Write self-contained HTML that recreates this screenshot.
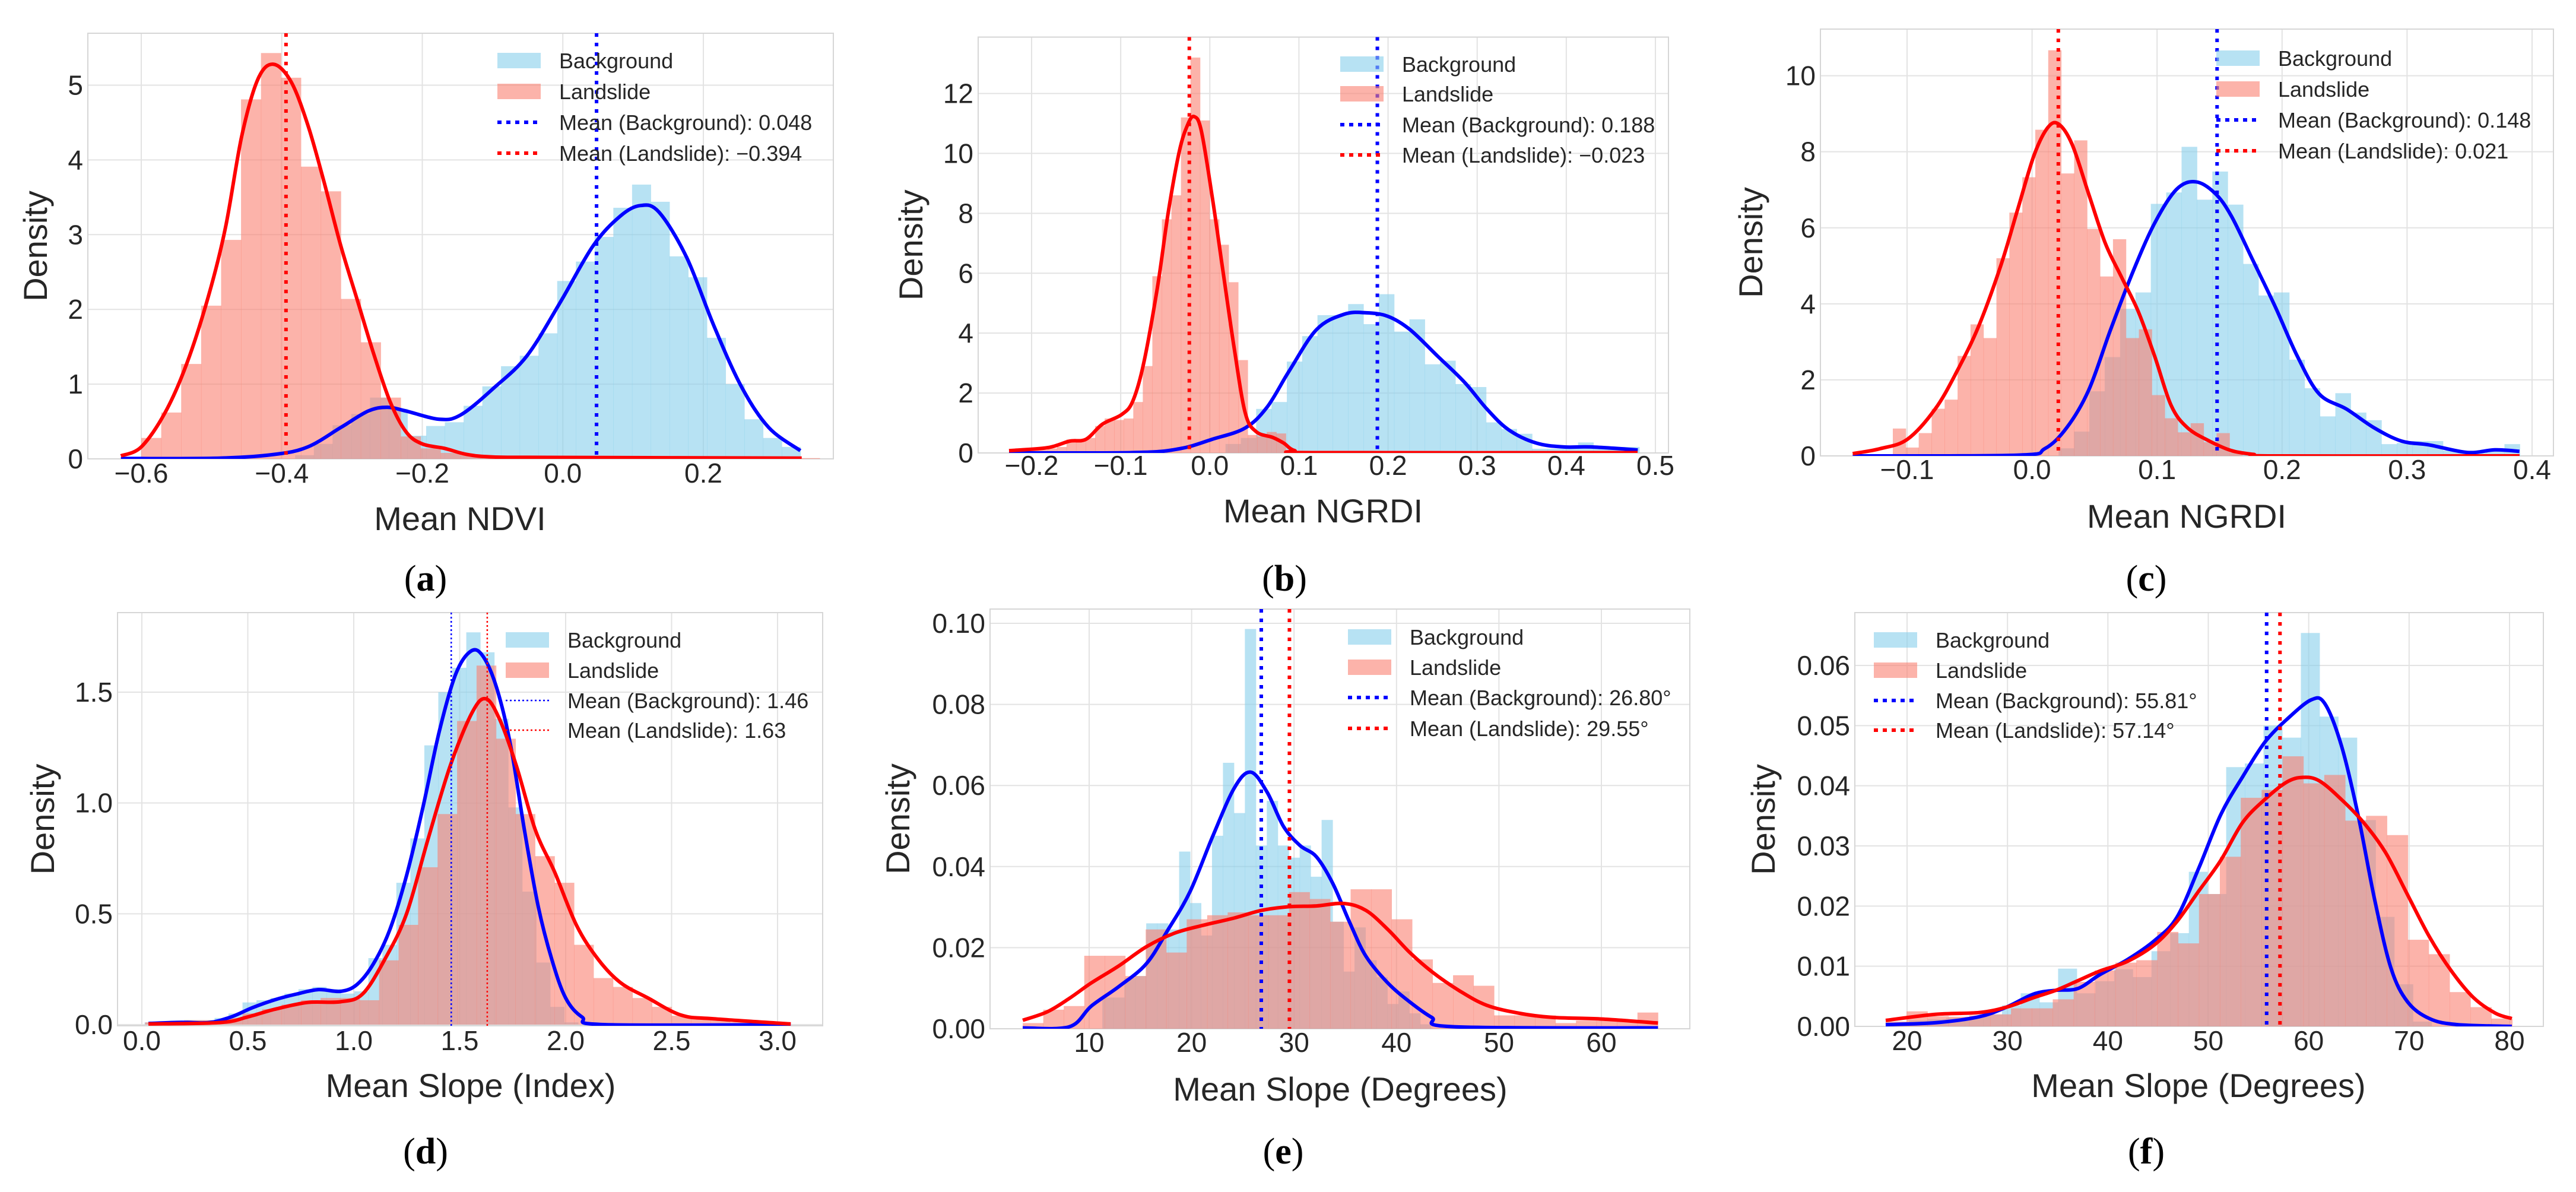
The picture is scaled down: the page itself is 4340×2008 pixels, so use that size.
<!DOCTYPE html>
<html><head><meta charset="utf-8">
<style>
html,body{margin:0;padding:0;background:#fff;}
svg{display:block;font-family:"Liberation Sans",Arial,sans-serif;}
</style></head>
<body>
<svg id="fig" xmlns="http://www.w3.org/2000/svg" width="4340" height="2008" viewBox="0 0 4340 2008"></svg>
<script>
// ---------- Panel (a) Mean NDVI ----------
const aRedBin=[-0.6,0.0284];
const aRedHist=[0.28,0.62,1.27,2.05,2.93,4.81,5.43,5.10,3.91,3.58,2.14,1.56,0.82,0.3,0.14,0.08,0.05,0.03,0.02,0.02,0.02,0.01,0.01,0.01,0.01,0.01,0.01,0.01,0.01,0.01,0.01,0.01,0.01,0.01];
const aBlueBin=[-0.381,0.02664];
const aBlueHist=[0.05,0.2,0.45,0.6,0.82,0.67,0.31,0.44,0.49,0.71,0.97,1.24,1.38,1.68,2.38,2.64,2.97,3.36,3.67,3.44,2.71,2.43,1.62,1.0,0.53,0.28,0.16];
const aRedKdeX=[-0.629,-0.6,-0.566,-0.535,-0.504,-0.48,-0.457,-0.434,-0.412,-0.387,-0.363,-0.34,-0.316,-0.293,-0.27,-0.246,-0.223,-0.2,-0.168,-0.137,-0.098,-0.02,0.34];
const aRedKdeY=[0.04,0.16,0.62,1.28,2.19,3.1,4.32,5.08,5.28,5.05,4.47,3.71,2.85,2.14,1.43,0.77,0.36,0.2,0.14,0.06,0.025,0.02,0.01];
const aBlueKdeX=[-0.629,-0.488,-0.41,-0.363,-0.316,-0.277,-0.25,-0.223,-0.176,-0.145,-0.098,-0.051,-0.004,0.043,0.082,0.111,0.137,0.176,0.215,0.254,0.293,0.338];
const aBlueKdeY=[0.005,0.01,0.06,0.16,0.42,0.64,0.69,0.64,0.53,0.59,0.95,1.38,2.09,2.85,3.25,3.39,3.3,2.7,1.78,0.97,0.42,0.11];
const aMeans=[0.048,-0.394];
const aXTicks=[-0.6,-0.4,-0.2,0.0,0.2];
const aXTickLabels=["\u22120.6","\u22120.4","\u22120.2","0.0","0.2"];
const aYTicks=[0,1,2,3,4,5];
const aYTickLabels=["0","1","2","3","4","5"];

// ---------- Panel (b) Mean NGRDI ----------
const bRedBin=[-0.225,0.0107];
const bRedHist=[0.05,0.08,0.1,0.1,0.15,0.2,0.45,0.45,0.5,0.9,1.15,1.1,1.15,1.7,2.9,5.9,7.8,8.6,11.2,13.2,11.1,7.8,6.95,5.7,3.1,0.6,0.55,0.7,0.65,0.1,0.05];
const bBlueBin=[0.0176,0.0172];
const bBlueHist=[0.3,0.5,1.47,1.7,3.05,3.9,4.6,4.6,4.97,4.3,5.3,4.05,4.46,2.96,3.08,2.3,2.2,1.02,0.8,0.64,0.14,0.14,0.14,0.35,0.2,0.2,0.2];
const bRedKdeX=[-0.2253,-0.1821,-0.1575,-0.139,-0.1205,-0.099,-0.0866,-0.0743,-0.0589,-0.0466,-0.0343,-0.025,-0.0176,-0.0096,0.0027,0.015,0.0274,0.0397,0.052,0.0705,0.0828,0.0951,0.12,0.48];
const bRedKdeY=[0.076,0.177,0.392,0.455,0.961,1.28,1.72,2.98,5.51,8.04,10.06,10.95,11.23,10.76,8.55,6.02,3.49,1.34,0.71,0.52,0.33,0.08,0.01,0.01];
const bBlueKdeX=[-0.2253,-0.0836,-0.0343,0.0027,0.0397,0.0643,0.0889,0.1198,0.1506,0.1752,0.1999,0.2245,0.2553,0.2861,0.3108,0.3354,0.3662,0.397,0.4279,0.4802];
const bBlueKdeY=[0,0.013,0.139,0.455,0.834,1.53,2.73,4.12,4.63,4.68,4.56,4.12,3.24,2.35,1.47,0.77,0.33,0.2,0.2,0.1];
const bMeans=[0.188,-0.023];
const bXTicks=[-0.2,-0.1,0.0,0.1,0.2,0.3,0.4,0.5];
const bXTickLabels=["\u22120.2","\u22120.1","0.0","0.1","0.2","0.3","0.4","0.5"];
const bYTicks=[0,2,4,6,8,10,12];
const bYTickLabels=["0","2","4","6","8","10","12"];

// ---------- Panel (c) Mean NGRDI ----------
const cRedBin=[-0.1114,0.01036];
const cRedHist=[0.72,0.22,0.6,1.24,1.48,2.63,3.46,3.1,5.2,6.4,7.33,8.58,10.67,7.43,8.3,5.97,4.72,5.7,3.1,3.33,1.6,0.99,0.62,0.86,0.36,0.6,0.09];
const cBlueBin=[0.0212,0.0123];
const cBlueHist=[0.2,0.64,1.7,2.6,3.87,4.3,6.63,6.93,8.13,6.74,7.48,6.61,5.05,4.22,4.3,2.53,1.78,1.04,1.65,1.14,0.94,0.31,0.34,0.39,0.39,0.14,0.09,0.09,0.14,0.31];
const cRedKdeX=[-0.1435,-0.1215,-0.0996,-0.0776,-0.06,-0.0425,-0.0249,-0.0118,0.0014,0.0124,0.0212,0.0321,0.0453,0.0585,0.0716,0.0848,0.098,0.1112,0.1243,0.1419,0.1594,0.177,0.1946,0.39];
const cRedKdeY=[0.06,0.19,0.44,1.23,2.23,3.43,5.02,6.45,7.89,8.63,8.73,8.19,6.89,5.6,4.7,3.81,2.63,1.33,0.74,0.39,0.14,0.04,0,0];
const cBlueKdeX=[-0.1435,-0.0118,0.0102,0.0277,0.0453,0.0629,0.0804,0.098,0.1155,0.1309,0.1463,0.1594,0.177,0.1946,0.2121,0.2297,0.2516,0.2736,0.2955,0.3175,0.3482,0.3702,0.3899];
const cBlueKdeY=[0,0.02,0.19,0.74,1.73,3.33,4.82,6.12,7.01,7.21,6.91,6.31,5.12,3.92,2.63,1.63,1.23,0.74,0.39,0.29,0.09,0.16,0.12];
const cMeans=[0.148,0.021];
const cXTicks=[-0.1,0.0,0.1,0.2,0.3,0.4];
const cXTickLabels=["\u22120.1","0.0","0.1","0.2","0.3","0.4"];
const cYTicks=[0,2,4,6,8,10];
const cYTickLabels=["0","2","4","6","8","10"];

// ---------- Panel (d) Mean Slope (Index) ----------
const dRedBin=[0.0155,0.092];
const dRedHist=[0.01,0.01,0.02,0.02,0.03,0.05,0.07,0.09,0.11,0.12,0.12,0.11,0.29,0.45,0.71,0.95,1.37,1.62,1.29,0.95,0.76,0.64,0.36,0.21,0.17,0.12,0.08,0.04,0.03,0.02,0.01,0.01,0.005];
const dBlueBin=[0.013,0.066];
const dBlueHist=[0.01,0.01,0.01,0.02,0.02,0.03,0.05,0.1,0.11,0.12,0.14,0.16,0.17,0.16,0.14,0.15,0.3,0.36,0.64,0.84,1.26,1.5,1.61,1.77,1.68,1.38,0.98,0.6,0.28,0.08,0.01];
const dRedKdeX=[0.0311,0.3679,0.4974,0.6269,0.7824,0.9378,1.0415,1.1451,1.2487,1.3523,1.456,1.5596,1.6244,1.6891,1.7668,1.8575,1.9482,2.0518,2.1554,2.259,2.3886,2.544,2.6995,3.0622];
const dRedKdeY=[0.003,0.009,0.034,0.069,0.1,0.103,0.138,0.292,0.499,0.843,1.17,1.41,1.47,1.376,1.17,0.877,0.688,0.447,0.292,0.189,0.12,0.043,0.026,0.003];
const dBlueKdeX=[0.0311,0.1865,0.316,0.4197,0.5233,0.6269,0.7306,0.8342,0.9378,1.0155,1.0933,1.171,1.2487,1.3264,1.4041,1.4819,1.5544,1.6114,1.6762,1.741,1.8057,1.8705,1.9352,2.0,2.0777,2.1813,3.0622];
const dBlueKdeY=[0.005,0.01,0.009,0.034,0.077,0.112,0.138,0.158,0.15,0.181,0.275,0.43,0.671,0.98,1.325,1.583,1.686,1.66,1.514,1.256,0.877,0.533,0.292,0.12,0.034,0,0];
const dMeans=[1.46,1.63];
const dXTicks=[0,0.5,1,1.5,2,2.5,3];
const dXTickLabels=["0.0","0.5","1.0","1.5","2.0","2.5","3.0"];
const dYTicks=[0,0.5,1,1.5];
const dYTickLabels=["0.0","0.5","1.0","1.5"];

// ---------- Panel (e) Mean Slope (Degrees) ----------
const eRedBin=[3.52,2.0];
const eRedHist=[0.0014,0.0047,0.0056,0.018,0.018,0.013,0.0245,0.0188,0.027,0.028,0.0287,0.028,0.028,0.0337,0.032,0.0264,0.0344,0.0344,0.027,0.0171,0.0113,0.0132,0.0106,0.0033,0.0033,0.0033,0.0014,0.002,0.002,0.002,0.004];
const eBlueBin=[11.29,1.07];
const eBlueHist=[0.0077,0.0077,0.0125,0.013,0.026,0.026,0.0245,0.0437,0.031,0.023,0.0476,0.0656,0.0532,0.0986,0.0452,0.0562,0.0452,0.0422,0.0452,0.0375,0.0515,0.0264,0.0141,0.025,0.0169,0.0127,0.0061,0.0092,0.0038,0.0011];
const eRedKdeX=[3.515,5.93,8.07,10.21,12.89,15.57,18.25,20.93,24.15,26.83,29.51,32.19,34.87,37.01,39.15,41.3,43.44,46.12,48.8,52.02,55.23,60.05,65.52];
const eRedKdeY=[0.0021,0.0042,0.0075,0.0113,0.0155,0.0202,0.0235,0.0254,0.0273,0.0292,0.0301,0.0303,0.0309,0.0292,0.0245,0.0188,0.0141,0.0094,0.0058,0.0038,0.0028,0.0024,0.0014];
const eBlueKdeX=[3.515,8.07,10.21,12.89,15.57,17.72,19.86,22.0,24.15,25.76,27.36,28.97,30.58,32.19,33.79,35.4,37.01,39.15,41.3,43.44,45.58,65.52];
const eBlueKdeY=[0.0002,0.0005,0.0056,0.0104,0.016,0.0245,0.0339,0.0471,0.0593,0.0633,0.0584,0.0499,0.0452,0.0424,0.0358,0.0264,0.0179,0.0113,0.0066,0.0028,0.0005,0.0002];
const eMeans=[26.80,29.55];
const eXTicks=[10,20,30,40,50,60];
const eXTickLabels=["10","20","30","40","50","60"];
const eYTicks=[0,0.02,0.04,0.06,0.08,0.10];
const eYTickLabels=["0.00","0.02","0.04","0.06","0.08","0.10"];

// ---------- Panel (f) Mean Slope (Degrees) ----------
const fRedBin=[17.87,2.08];
const fRedHist=[0.0008,0.0025,0.0017,0.0016,0.0018,0.002,0.003,0.003,0.0045,0.0074,0.0093,0.0106,0.011,0.0157,0.0138,0.022,0.0282,0.038,0.0393,0.0449,0.0404,0.0418,0.0342,0.035,0.0318,0.0144,0.012,0.0057,0.0032,0.0013];
const fBlueBin=[18.30,1.86];
const fBlueHist=[0.0005,0.001,0.0012,0.0014,0.0016,0.002,0.0035,0.0055,0.004,0.0096,0.0055,0.0075,0.0095,0.0082,0.0125,0.0155,0.0257,0.022,0.0431,0.0437,0.05,0.048,0.0654,0.0515,0.048,0.0343,0.0182,0.007,0.0008];
const fRedKdeX=[17.87,22.79,27.17,29.9,32.64,34.82,37.01,39.2,41.94,44.67,46.86,49.05,51.24,53.42,55.61,57.8,59.44,61.08,63.27,65.46,67.65,69.84,72.02,74.21,76.4,78.59,80.23];
const fRedKdeY=[0.001,0.002,0.0023,0.0032,0.0048,0.006,0.0076,0.0092,0.0108,0.0136,0.0174,0.0225,0.0276,0.0339,0.0377,0.0406,0.0414,0.0408,0.0377,0.0339,0.0289,0.0219,0.0149,0.0092,0.0048,0.0022,0.0013];
const fBlueKdeX=[17.87,22.79,27.17,29.9,32.64,34.82,37.01,39.2,41.94,44.67,46.86,49.05,51.24,53.42,55.61,57.8,60.26,61.63,63.27,64.91,66.55,68.19,69.84,72.02,74.76,80.23];
const fBlueKdeY=[0.0003,0.0006,0.0016,0.0032,0.0054,0.006,0.0063,0.0086,0.0111,0.0143,0.0181,0.0263,0.0352,0.0415,0.0472,0.0510,0.0543,0.0536,0.0466,0.0352,0.0212,0.0097,0.0041,0.0013,0.0003,0];
const fMeans=[55.81,57.14];
const fXTicks=[20,30,40,50,60,70,80];
const fXTickLabels=["20","30","40","50","60","70","80"];
const fYTicks=[0,0.01,0.02,0.03,0.04,0.05,0.06];
const fYTickLabels=["0.00","0.01","0.02","0.03","0.04","0.05","0.06"];

const NS="http://www.w3.org/2000/svg";
const svg=document.getElementById('fig');
function mk(parent,tag,attrs){const e=document.createElementNS(NS,tag);for(const k in attrs)e.setAttribute(k,attrs[k]);parent.appendChild(e);return e;}

const panels=[
 {id:'a',box:[148,56,1404,773],xa:[-0.6,238,0.2,1185],ya:[0,773,5,143.5],xt:aXTicks,xl:aXTickLabels,yt:aYTicks,yl:aYTickLabels,
  rb:aRedBin,rh:aRedHist,bb:aBlueBin,bh:aBlueHist,rkx:aRedKdeX,rky:aRedKdeY,bkx:aBlueKdeX,bky:aBlueKdeY,means:aMeans,
  leg:[838,[102,154,206,258]],legTxt:["Background","Landslide","Mean (Background): 0.048","Mean (Landslide): \u22120.394"],
  xlab:"Mean NDVI",xlabPos:[775,893],ylabX:60,tickY:813,cap:"a",capPos:[717,995],thin:false},
 {id:'b',box:[1648,62.5,2811,763],xa:[-0.2,1738,0.5,2789],ya:[0,763,12,157.5],xt:bXTicks,xl:bXTickLabels,yt:bYTicks,yl:bYTickLabels,
  rb:bRedBin,rh:bRedHist,bb:bBlueBin,bh:bBlueHist,rkx:bRedKdeX,rky:bRedKdeY,bkx:bBlueKdeX,bky:bBlueKdeY,means:bMeans,
  leg:[2258,[108,158,210,261]],legTxt:["Background","Landslide","Mean (Background): 0.188","Mean (Landslide): \u22120.023"],
  xlab:"Mean NGRDI",xlabPos:[2229,880],ylabX:1535,tickY:800,cap:"b",capPos:[2164,995],thin:false},
 {id:'c',box:[3067,49,4302,768],xa:[-0.1,3213,0.4,4266],ya:[0,768,10,127.6],xt:cXTicks,xl:cXTickLabels,yt:cYTicks,yl:cYTickLabels,
  rb:cRedBin,rh:cRedHist,bb:cBlueBin,bh:cBlueHist,rkx:cRedKdeX,rky:cRedKdeY,bkx:cBlueKdeX,bky:cBlueKdeY,means:cMeans,
  leg:[3734,[98,150,202,254]],legTxt:["Background","Landslide","Mean (Background): 0.148","Mean (Landslide): 0.021"],
  xlab:"Mean NGRDI",xlabPos:[3684,889],ylabX:2950,tickY:807,cap:"c",capPos:[3616,995],thin:false},
 {id:'d',box:[198,1032,1386,1728],xa:[0,239,3,1310],ya:[0,1726,1.5,1166],xt:dXTicks,xl:dXTickLabels,yt:dYTicks,yl:dYTickLabels,
  rb:dRedBin,rh:dRedHist,bb:dBlueBin,bh:dBlueHist,rkx:dRedKdeX,rky:dRedKdeY,bkx:dBlueKdeX,bky:dBlueKdeY,means:dMeans,
  leg:[852,[1078,1129,1180,1230]],legTxt:["Background","Landslide","Mean (Background): 1.46","Mean (Landslide): 1.63"],
  xlab:"Mean Slope (Index)",xlabPos:[793,1848],ylabX:72,tickY:1769,cap:"d",capPos:[717,1960],thin:true},
 {id:'e',box:[1668,1026,2847,1733],xa:[10,1835,60,2698],ya:[0,1733,0.1,1050],xt:eXTicks,xl:eXTickLabels,yt:eYTicks,yl:eYTickLabels,
  rb:eRedBin,rh:eRedHist,bb:eBlueBin,bh:eBlueHist,rkx:eRedKdeX,rky:eRedKdeY,bkx:eBlueKdeX,bky:eBlueKdeY,means:eMeans,
  leg:[2271,[1073,1124,1175,1227]],legTxt:["Background","Landslide","Mean (Background): 26.80\u00b0","Mean (Landslide): 29.55\u00b0"],
  xlab:"Mean Slope (Degrees)",xlabPos:[2258,1854],ylabX:1513,tickY:1772,cap:"e",capPos:[2162,1960],thin:false},
 {id:'f',box:[3125,1032,4285,1729],xa:[20,3213,80,4228],ya:[0,1729,0.06,1121],xt:fXTicks,xl:fXTickLabels,yt:fYTicks,yl:fYTickLabels,
  rb:fRedBin,rh:fRedHist,bb:fBlueBin,bh:fBlueHist,rkx:fRedKdeX,rky:fRedKdeY,bkx:fBlueKdeX,bky:fBlueKdeY,means:fMeans,
  leg:[3157,[1078,1129,1180,1230]],legTxt:["Background","Landslide","Mean (Background): 55.81\u00b0","Mean (Landslide): 57.14\u00b0"],
  xlab:"Mean Slope (Degrees)",xlabPos:[3704,1848],ylabX:2971,tickY:1769,cap:"f",capPos:[3616,1960],thin:false}
];

function smoothPath(pts){
  if(pts.length<2)return '';
  let d='M'+pts[0][0].toFixed(1)+','+pts[0][1].toFixed(1);
  for(let i=0;i<pts.length-1;i++){
    const p0=pts[i-1]||pts[i],p1=pts[i],p2=pts[i+1],p3=pts[i+2]||p2;
    const c1=[p1[0]+(p2[0]-p0[0])/6,p1[1]+(p2[1]-p0[1])/6];
    const c2=[p2[0]-(p3[0]-p1[0])/6,p2[1]-(p3[1]-p1[1])/6];
    d+=' C'+c1[0].toFixed(1)+','+c1[1].toFixed(1)+' '+c2[0].toFixed(1)+','+c2[1].toFixed(1)+' '+p2[0].toFixed(1)+','+p2[1].toFixed(1);
  }
  return d;
}

panels.forEach(P=>{
  const [L,T,R,B]=P.box;
  const sx=v=>P.xa[1]+(v-P.xa[0])*(P.xa[3]-P.xa[1])/(P.xa[2]-P.xa[0]);
  const sy=v=>P.ya[1]+(v-P.ya[0])*(P.ya[3]-P.ya[1])/(P.ya[2]-P.ya[0]);
  const g=mk(svg,'g',{});
  
  
  const clipId='clip'+P.id;
  const defs=mk(g,'defs',{});
  const cp=mk(defs,'clipPath',{id:clipId});
  mk(cp,'rect',{x:L,y:T,width:R-L,height:B-T});
  P.xt.forEach((v,i)=>{
    const ln=mk(g,'line',{x1:sx(v),x2:sx(v),y1:T,y2:B,stroke:'#e3e3e3','stroke-width':2});
    
    
    const t=mk(g,'text',{x:sx(v),y:P.tickY,'font-size':46,'text-anchor':'middle',fill:'#262626'});
    t.textContent=P.xl[i];
    
    
  });
  P.yt.forEach((v,i)=>{
    const ln=mk(g,'line',{x1:L,x2:R,y1:sy(v),y2:sy(v),stroke:'#e3e3e3','stroke-width':2});
    
    
    const t=mk(g,'text',{x:L-8,y:sy(v)+16,'font-size':46,'text-anchor':'end',fill:'#262626'});
    t.textContent=P.yl[i];
    
    
  });
  const frame=mk(g,'rect',{x:L,y:T,width:R-L,height:B-T,fill:'none',stroke:'#d6d6d6','stroke-width':2});
  
  
  const data=mk(g,'g',{'clip-path':'url(#'+clipId+')'});
  P.bh.forEach((v,i)=>{
    const x0=sx(P.bb[0]+i*P.bb[1]),x1=sx(P.bb[0]+(i+1)*P.bb[1]);
    const r=mk(data,'rect',{x:x0,y:sy(v),width:x1-x0+0.5,height:sy(0)-sy(v),fill:'#87CEEB','fill-opacity':0.6});
    
    
  });
  P.rh.forEach((v,i)=>{
    const x0=sx(P.rb[0]+i*P.rb[1]),x1=sx(P.rb[0]+(i+1)*P.rb[1]);
    const r=mk(data,'rect',{x:x0,y:sy(v),width:x1-x0+0.5,height:sy(0)-sy(v),fill:'#FA8072','fill-opacity':0.6});
    
    
  });
  const bp=mk(data,'path',{d:smoothPath(P.bkx.map((x,i)=>[sx(x),sy(P.bky[i])])),fill:'none',stroke:'#0000ff','stroke-width':6,'stroke-linejoin':'round'});
  
  
  const rp=mk(data,'path',{d:smoothPath(P.rkx.map((x,i)=>[sx(x),sy(P.rky[i])])),fill:'none',stroke:'#ff0000','stroke-width':6,'stroke-linejoin':'round'});
  
  
  const lw=P.thin?2.5:6, da=P.thin?'3 4':'6 10';
  ['#0000ff','#ff0000'].forEach((c,i)=>{
    const m=mk(data,'line',{x1:sx(P.means[i]),x2:sx(P.means[i]),y1:T,y2:B,stroke:c,'stroke-width':lw,'stroke-dasharray':da});
    
    
  });
  const lg=mk(g,'g',{});
  
  
  const lx=P.leg[0],rows=P.leg[1];
  const sw1=mk(lg,'rect',{x:lx,y:rows[0]-13,width:73,height:26,fill:'#87CEEB','fill-opacity':0.6});
  
  
  const sw2=mk(lg,'rect',{x:lx,y:rows[1]-13,width:73,height:26,fill:'#FA8072','fill-opacity':0.6});
  
  
  const l1=mk(lg,'line',{x1:lx,x2:lx+73,y1:rows[2],y2:rows[2],stroke:'#0000ff','stroke-width':lw,'stroke-dasharray':P.thin?'3 4':'7 8'});
  
  
  const l2=mk(lg,'line',{x1:lx,x2:lx+73,y1:rows[3],y2:rows[3],stroke:'#ff0000','stroke-width':lw,'stroke-dasharray':P.thin?'3 4':'7 8'});
  
  
  P.legTxt.forEach((s,i)=>{
    const t=mk(lg,'text',{x:lx+104,y:rows[i]+13,'font-size':36,fill:'#262626'});
    t.textContent=s;
    
    
  });
  const xl=mk(g,'text',{x:P.xlabPos[0],y:P.xlabPos[1],'font-size':56,'text-anchor':'middle',fill:'#262626'});
  xl.textContent=P.xlab;
  
  
  const ym=(T+B)/2;
  const yl=mk(g,'text',{x:P.ylabX,y:ym,'font-size':56,'text-anchor':'middle',fill:'#262626',transform:'rotate(-90 '+P.ylabX+' '+ym+') translate(0 19)'});
  yl.textContent='Density';
  
  
  const cap=mk(g,'text',{x:P.capPos[0],y:P.capPos[1],'font-size':62,'text-anchor':'middle',fill:'#000','font-family':'"Liberation Serif",serif'});
  cap.appendChild(document.createTextNode('('));
  const bt=mk(cap,'tspan',{'font-weight':'bold'});
  bt.textContent=P.cap;
  cap.appendChild(document.createTextNode(')'));
  
  
});
</script>
</body></html>
